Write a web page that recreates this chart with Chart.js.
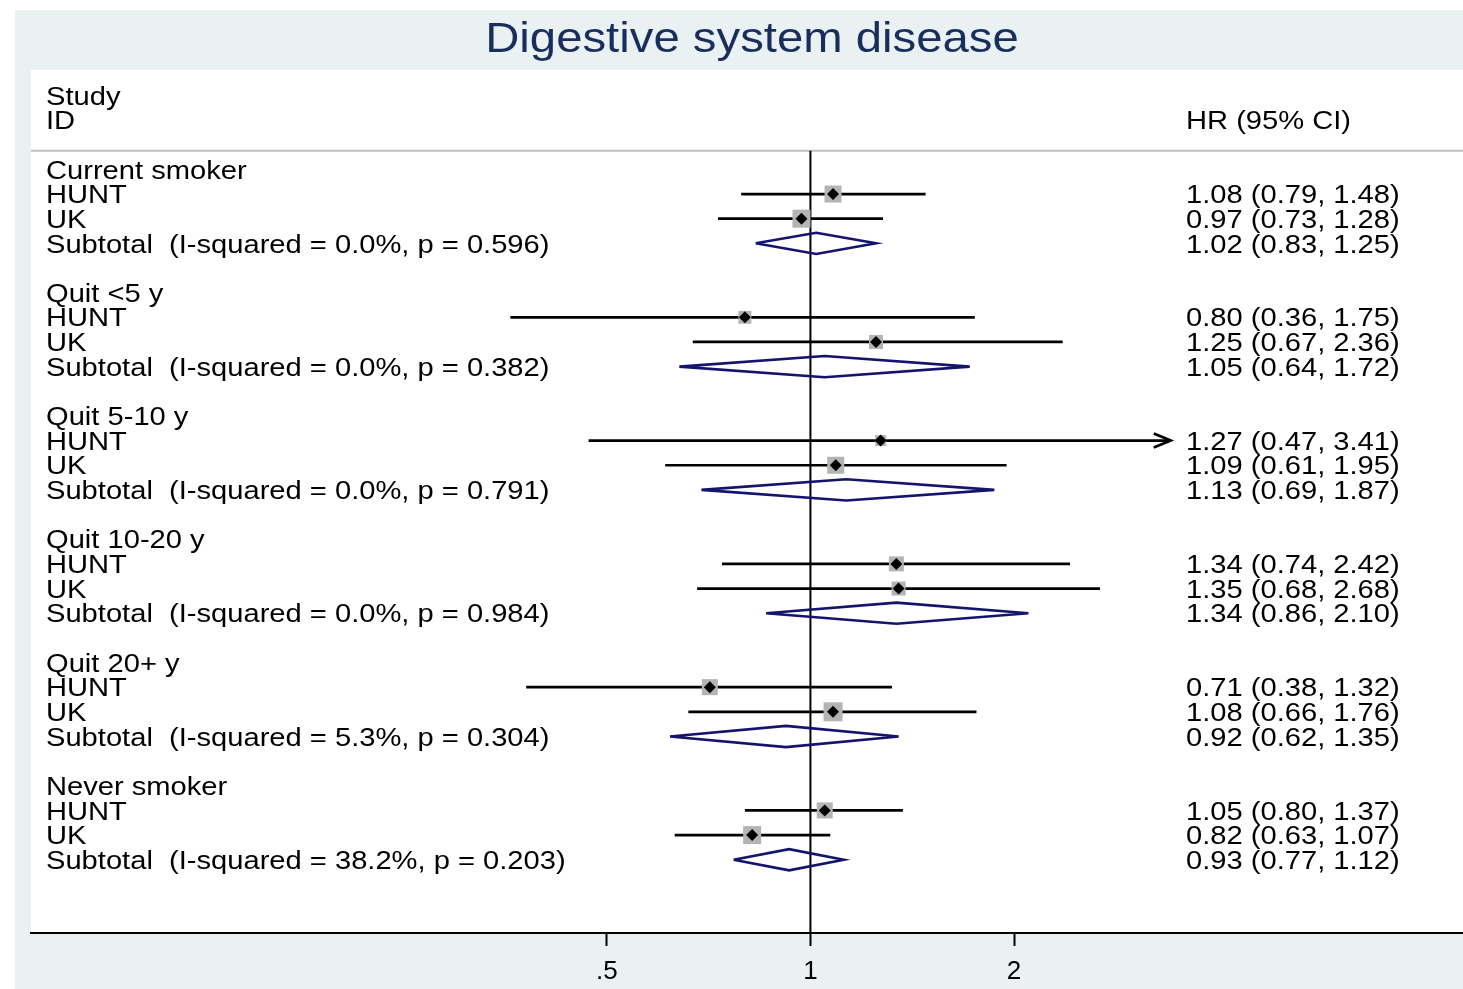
<!DOCTYPE html>
<html>
<head>
<meta charset="UTF-8">
<title>Digestive system disease</title>
<script src="https://cdn.jsdelivr.net/npm/chart.js@4.4.0/dist/chart.umd.min.js"></script>
<style>
  html, body { margin: 0; padding: 0; background: #fff; overflow: hidden; }
  canvas { display: block; }
</style>
</head>
<body>
<canvas id="forest" width="1463" height="989"></canvas>
<script>
// --- data ---
const groups = ['Current smoker', 'Quit <5 y', 'Quit 5-10 y', 'Quit 10-20 y', 'Quit 20+ y', 'Never smoker'];
const studies = ['HUNT', 'UK'];

const huntHR = [1.08, 0.80, 1.27, 1.34, 0.71, 1.05];
const huntLo = [0.79, 0.36, 0.47, 0.74, 0.38, 0.80];
const huntHi = [1.48, 1.75, 3.41, 2.42, 1.32, 1.37];

const ukHR = [0.97, 1.25, 1.09, 1.35, 1.08, 0.82];
const ukLo = [0.73, 0.67, 0.61, 0.68, 0.66, 0.63];
const ukHi = [1.28, 2.36, 1.95, 2.68, 1.76, 1.07];

const subHR = [1.02, 1.05, 1.13, 1.34, 0.92, 0.93];
const subLo = [0.83, 0.64, 0.69, 0.86, 0.62, 0.77];
const subHi = [1.25, 1.72, 1.87, 2.10, 1.35, 1.12];

const iSquared = ['0.0%', '0.0%', '0.0%', '0.0%', '5.3%', '38.2%'];
const pHet = ['0.596', '0.382', '0.791', '0.984', '0.304', '0.203'];

// study weight boxes (side in px)
const huntBox = [17, 13, 11, 15, 16, 16];
const ukBox = [18, 14, 17, 14, 19, 18];

const tickValues = [0.5, 1, 2];
const tickLabels = ['.5', '1', '2'];

// --- layout / style ---
const FONT = "'Liberation Sans', Arial, Helvetica, sans-serif";
const STRETCH = 1.12;
const X_MIN = -3.828, X_MAX = 3.205;      // log2 HR at the plot edges
const Y_MIN = -4.03, Y_MAX = 30.97;       // row units
const HEADER_LINE = -0.76;
const DIAMOND_H = 0.43;
const ARROW_AT = 3;
const NAVY = '#14146e';

const rowOf = (g, k) => g * 5 + k;
const lg = v => Math.log2(v);

// rows of individual studies
const studyRows = [];
groups.forEach((name, g) => {
  studyRows.push({ hr: huntHR[g], lo: huntLo[g], hi: huntHi[g], box: huntBox[g], row: rowOf(g, 1) });
  studyRows.push({ hr: ukHR[g], lo: ukLo[g], hi: ukHi[g], box: ukBox[g], row: rowOf(g, 2) });
});

const datasets = [];

datasets.push({
  label: 'markers',
  data: studyRows.map(s => ({ x: lg(s.hr), y: s.row })),
  pointStyle: 'rectRot',
  pointRadius: 6,
  backgroundColor: '#000',
  borderWidth: 0,
  order: 0
});

datasets.push({
  label: 'boxes',
  data: studyRows.map(s => ({ x: lg(s.hr), y: s.row })),
  pointStyle: 'rect',
  pointRadius: studyRows.map(s => s.box / Math.SQRT2),
  backgroundColor: '#b4b4b4',
  borderWidth: 0,
  order: 1
});

groups.forEach((name, g) => {
  const r = rowOf(g, 3);
  datasets.push({
    label: 'pooled ' + name,
    data: [
      { x: lg(subLo[g]), y: r },
      { x: lg(subHR[g]), y: r - DIAMOND_H },
      { x: lg(subHi[g]), y: r },
      { x: lg(subHR[g]), y: r + DIAMOND_H },
      { x: lg(subLo[g]), y: r }
    ],
    showLine: true,
    borderColor: NAVY,
    borderWidth: 2.6,
    borderJoinStyle: 'miter',
    pointRadius: 0,
    fill: false,
    order: 2
  });
});

studyRows.forEach(s => {
  datasets.push({
    label: 'ci',
    data: [{ x: lg(s.lo), y: s.row }, { x: lg(s.hi), y: s.row }],
    showLine: true,
    borderColor: '#000',
    borderWidth: 2.7,
    pointRadius: 0,
    order: 3
  });
});

datasets.push({
  label: 'null line',
  data: [{ x: 0, y: HEADER_LINE }, { x: 0, y: Y_MAX }],
  showLine: true,
  borderColor: '#000',
  borderWidth: 2,
  pointRadius: 0,
  order: 4
});

function stretchText(ctx, str, x, y, size, color, align, baseline, stretch) {
  ctx.save();
  ctx.translate(x, y);
  ctx.scale(stretch, 1);
  ctx.font = size + 'px ' + FONT;
  ctx.fillStyle = color;
  ctx.textAlign = align;
  ctx.textBaseline = baseline;
  ctx.fillText(str, 0, 0);
  ctx.restore();
}

const forestPlugin = {
  id: 'forest',
  beforeDraw(chart) {
    const { ctx, chartArea: a, width, height } = chart;
    ctx.save();
    ctx.fillStyle = '#fff';
    ctx.fillRect(0, 0, width, height);
    ctx.fillStyle = '#eaf1f3';
    ctx.fillRect(15, 10, width - 15, height - 10);
    ctx.fillStyle = '#fff';
    ctx.fillRect(a.left, a.top, a.right - a.left, a.bottom - a.top);
    ctx.restore();
  },
  beforeDatasetsDraw(chart) {
    const { ctx, chartArea: a } = chart;
    const y = chart.scales.y.getPixelForValue(HEADER_LINE);
    ctx.save();
    ctx.strokeStyle = '#c0c0c0';
    ctx.lineWidth = 2;
    ctx.beginPath();
    ctx.moveTo(a.left, y);
    ctx.lineTo(a.right, y);
    ctx.stroke();
    ctx.restore();
  },
  afterDatasetsDraw(chart) {
    const { ctx } = chart;
    const xs = chart.scales.x, ys = chart.scales.y;
    ctx.save();
    ctx.strokeStyle = '#000';
    ctx.lineWidth = 2.7;
    studyRows.filter(s => s.hi > ARROW_AT).forEach(s => {
      const x = xs.getPixelForValue(lg(s.hi));
      const y = ys.getPixelForValue(s.row);
      ctx.beginPath();
      ctx.moveTo(x - 17, y - 7);
      ctx.lineTo(x, y);
      ctx.lineTo(x - 17, y + 7);
      ctx.stroke();
    });
    ctx.restore();
  },
  afterDraw(chart) {
    const { ctx } = chart;
    const ys = chart.scales.y;
    const L = 46, R = 1186, SZ = 26, DY = 2;
    const put = (str, x, row) =>
      stretchText(ctx, str, x, ys.getPixelForValue(row) + DY, SZ, '#000', 'left', 'middle', STRETCH);
    const ci = (h, l, u) => h.toFixed(2) + ' (' + l.toFixed(2) + ', ' + u.toFixed(2) + ')';

    put('Study', L, -3);
    put('ID', L, -2);
    put('HR (95% CI)', R, -2);

    groups.forEach((name, g) => {
      put(name, L, rowOf(g, 0));
      put(studies[0], L, rowOf(g, 1));
      put(studies[1], L, rowOf(g, 2));
      put('Subtotal  (I-squared = ' + iSquared[g] + ', p = ' + pHet[g] + ')', L, rowOf(g, 3));
      put(ci(huntHR[g], huntLo[g], huntHi[g]), R, rowOf(g, 1));
      put(ci(ukHR[g], ukLo[g], ukHi[g]), R, rowOf(g, 2));
      put(ci(subHR[g], subLo[g], subHi[g]), R, rowOf(g, 3));
    });

    stretchText(ctx, 'Digestive system disease', 752, 52, 43, '#1a2e5e', 'center', 'alphabetic', 1.1);
  }
};

new Chart(document.getElementById('forest'), {
  type: 'scatter',
  data: { datasets },
  options: {
    responsive: false,
    devicePixelRatio: 1,
    animation: false,
    events: [],
    layout: { autoPadding: false, padding: { left: 31, top: 70, right: 0, bottom: 0 } },
    plugins: {
      legend: { display: false },
      tooltip: { enabled: false },
      title: { display: false }
    },
    scales: {
      x: {
        type: 'linear',
        min: X_MIN,
        max: X_MAX,
        afterBuildTicks: axis => { axis.ticks = tickValues.map(v => ({ value: lg(v) })); },
        afterFit: axis => { axis.height = 56; },
        ticks: {
          callback: (value, index) => tickLabels[index],
          font: { family: FONT, size: 26 },
          color: '#000',
          padding: 10,
          maxRotation: 0,
          autoSkip: false
        },
        grid: {
          display: true,
          drawOnChartArea: false,
          drawTicks: true,
          tickLength: 13,
          tickColor: '#000',
          tickWidth: 2
        },
        border: { display: true, color: '#000', width: 2 }
      },
      y: {
        type: 'linear',
        reverse: true,
        min: Y_MIN,
        max: Y_MAX,
        display: false
      }
    }
  },
  plugins: [forestPlugin]
});
</script>
</body>
</html>
